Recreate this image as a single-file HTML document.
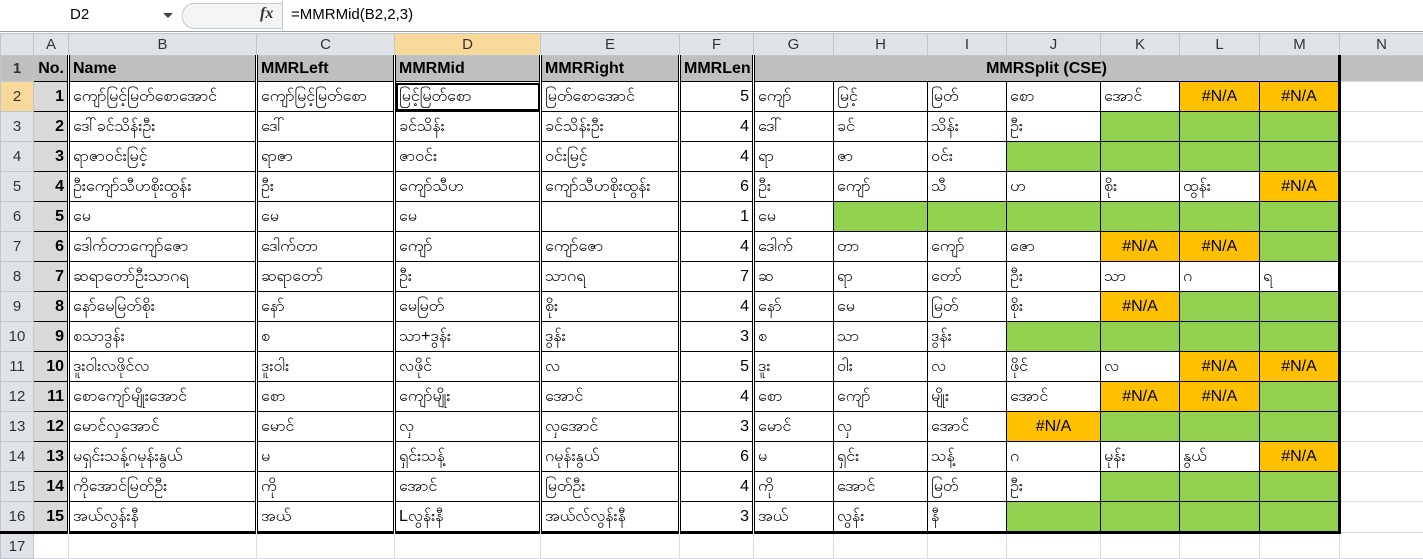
<!DOCTYPE html>
<html><head><meta charset="utf-8"><style>
body{margin:0;width:1423px;height:559px;overflow:hidden;background:#fff;font-family:"Liberation Sans","DejaVu Sans",sans-serif;position:relative}
#fb{position:absolute;left:0;top:0;width:1423px;height:31px;background:#fff;border-bottom:1px solid #9aa3ad}
#nb{position:absolute;left:70px;top:6px;font-size:15px}
#dd{position:absolute;left:163px;top:13px;width:0;height:0;border-left:5px solid transparent;border-right:5px solid transparent;border-top:5px solid #444}
#cl{position:absolute;left:182px;top:3px;width:100px;height:24px;border:1px solid #c5c9ce;border-radius:12px 0 0 12px;background:#f3f4f6;border-right:none}
#fx{position:absolute;left:260px;top:5px;font-style:italic;font-family:"Liberation Serif",serif;font-size:16px;font-weight:bold;color:#333}
#fdiv{position:absolute;left:282px;top:1px;width:1px;height:29px;background:#c5c9ce}
#ft{position:absolute;left:291px;top:6px;font-size:15px}
table{position:absolute;left:0;top:33px;border-collapse:collapse;table-layout:fixed;width:1423px}
td{padding:0 3px;height:29px;font-size:16px;white-space:nowrap;overflow:hidden;border:1px solid #000;font-family:"Liberation Sans","DejaVu Sans",sans-serif}
tr.h td{height:21px;background:#dfe3e8;border:1px solid #c0c6ce;text-align:center;color:#333;font-size:15px;padding:0}
td.rh{background:#dfe3e8;border:1px solid #c0c6ce;text-align:center;color:#333;font-size:15px;padding:0}
tr.r1 td{height:25px;background:#bfbfbf;font-weight:bold}
td.a{background:#d9d9d9;text-align:right;font-weight:bold}
td.n{text-align:right}
td.g{background:#92d050}
td.o{background:#ffc000;text-align:center}
td.x{border:1px solid #d9dde3;background:#fff}
td.dd{border-left:3px double #000}
tr.r17 td{height:24px}
.sel{outline:2px solid #000;outline-offset:-3px}
td.m{border-right:3px solid #000}
tr.last td{border-bottom:3px solid #000}
</style></head><body>
<div id="fb"><div id="nb">D2</div><div id="dd"></div><div id="cl"></div><div id="fx">fx</div><div id="fdiv"></div><div id="ft">=MMRMid(B2,2,3)</div></div>
<table>
<colgroup><col style="width:33px"><col style="width:35px"><col style="width:188px"><col style="width:138px"><col style="width:146px"><col style="width:139px"><col style="width:74px"><col style="width:80px"><col style="width:94px"><col style="width:79px"><col style="width:94px"><col style="width:79px"><col style="width:80px"><col style="width:80px"><col style="width:84px"></colgroup>
<tr class="h"><td></td><td>A</td><td>B</td><td>C</td><td style="background:#f9d99a">D</td><td>E</td><td>F</td><td>G</td><td>H</td><td>I</td><td>J</td><td>K</td><td>L</td><td>M</td><td>N</td></tr>
<tr class="r1"><td class="rh">1</td><td style="text-align:right">No.</td><td class="dd">Name</td><td class="dd">MMRLeft</td><td class="dd">MMRMid</td><td class="dd">MMRRight</td><td class="dd">MMRLen</td><td colspan="7" class="dd m" style="text-align:center">MMRSplit (CSE)</td><td class="x"></td></tr>
<tr><td class="rh" style="background:#f9d99a">2</td><td class="a">1</td><td class="dd">ကျော်မြင့်မြတ်စောအောင်</td><td class="dd">ကျော်မြင့်မြတ်စော</td><td class="dd sel">မြင့်မြတ်စော</td><td class="dd">မြတ်စောအောင်</td><td class="dd n">5</td><td class="dd">ကျော်</td><td>မြင့်</td><td>မြတ်</td><td>စော</td><td>အောင်</td><td class="o">#N/A</td><td class="o m">#N/A</td><td class="x"></td></tr>
<tr><td class="rh">3</td><td class="a">2</td><td class="dd">ဒေါ်ခင်သိန်းဦး</td><td class="dd">ဒေါ်</td><td class="dd">ခင်သိန်း</td><td class="dd">ခင်သိန်းဦး</td><td class="dd n">4</td><td class="dd">ဒေါ်</td><td>ခင်</td><td>သိန်း</td><td>ဦး</td><td class="g"></td><td class="g"></td><td class="g m"></td><td class="x"></td></tr>
<tr><td class="rh">4</td><td class="a">3</td><td class="dd">ရာဇာဝင်းမြင့်</td><td class="dd">ရာဇာ</td><td class="dd">ဇာဝင်း</td><td class="dd">ဝင်းမြင့်</td><td class="dd n">4</td><td class="dd">ရာ</td><td>ဇာ</td><td>ဝင်း</td><td class="g"></td><td class="g"></td><td class="g"></td><td class="g m"></td><td class="x"></td></tr>
<tr><td class="rh">5</td><td class="a">4</td><td class="dd">ဦးကျော်သီဟစိုးထွန်း</td><td class="dd">ဦး</td><td class="dd">ကျော်သီဟ</td><td class="dd">ကျော်သီဟစိုးထွန်း</td><td class="dd n">6</td><td class="dd">ဦး</td><td>ကျော်</td><td>သီ</td><td>ဟ</td><td>စိုး</td><td>ထွန်း</td><td class="o m">#N/A</td><td class="x"></td></tr>
<tr><td class="rh">6</td><td class="a">5</td><td class="dd">မေ</td><td class="dd">မေ</td><td class="dd">မေ</td><td class="dd"></td><td class="dd n">1</td><td class="dd">မေ</td><td class="g"></td><td class="g"></td><td class="g"></td><td class="g"></td><td class="g"></td><td class="g m"></td><td class="x"></td></tr>
<tr><td class="rh">7</td><td class="a">6</td><td class="dd">ဒေါက်တာကျော်ဇော</td><td class="dd">ဒေါက်တာ</td><td class="dd">ကျော်</td><td class="dd">ကျော်ဇော</td><td class="dd n">4</td><td class="dd">ဒေါက်</td><td>တာ</td><td>ကျော်</td><td>ဇော</td><td class="o">#N/A</td><td class="o">#N/A</td><td class="g m"></td><td class="x"></td></tr>
<tr><td class="rh">8</td><td class="a">7</td><td class="dd">ဆရာတော်ဦးသာဂရ</td><td class="dd">ဆရာတော်</td><td class="dd">ဦး</td><td class="dd">သာဂရ</td><td class="dd n">7</td><td class="dd">ဆ</td><td>ရာ</td><td>တော်</td><td>ဦး</td><td>သာ</td><td>ဂ</td><td class="m">ရ</td><td class="x"></td></tr>
<tr><td class="rh">9</td><td class="a">8</td><td class="dd">နော်မေမြတ်စိုး</td><td class="dd">နော်</td><td class="dd">မေမြတ်</td><td class="dd">စိုး</td><td class="dd n">4</td><td class="dd">နော်</td><td>မေ</td><td>မြတ်</td><td>စိုး</td><td class="o">#N/A</td><td class="g"></td><td class="g m"></td><td class="x"></td></tr>
<tr><td class="rh">10</td><td class="a">9</td><td class="dd">စသာဒွန်း</td><td class="dd">စ</td><td class="dd">သာ+ဒွန်း</td><td class="dd">ဒွန်း</td><td class="dd n">3</td><td class="dd">စ</td><td>သာ</td><td>ဒွန်း</td><td class="g"></td><td class="g"></td><td class="g"></td><td class="g m"></td><td class="x"></td></tr>
<tr><td class="rh">11</td><td class="a">10</td><td class="dd">ဒူးဝါးလဖိုင်လ</td><td class="dd">ဒူးဝါး</td><td class="dd">လဖိုင်</td><td class="dd">လ</td><td class="dd n">5</td><td class="dd">ဒူး</td><td>ဝါး</td><td>လ</td><td>ဖိုင်</td><td>လ</td><td class="o">#N/A</td><td class="o m">#N/A</td><td class="x"></td></tr>
<tr><td class="rh">12</td><td class="a">11</td><td class="dd">စောကျော်မျိုးအောင်</td><td class="dd">စော</td><td class="dd">ကျော်မျိုး</td><td class="dd">အောင်</td><td class="dd n">4</td><td class="dd">စော</td><td>ကျော်</td><td>မျိုး</td><td>အောင်</td><td class="o">#N/A</td><td class="o">#N/A</td><td class="g m"></td><td class="x"></td></tr>
<tr><td class="rh">13</td><td class="a">12</td><td class="dd">မောင်လှအောင်</td><td class="dd">မောင်</td><td class="dd">လှ</td><td class="dd">လှအောင်</td><td class="dd n">3</td><td class="dd">မောင်</td><td>လှ</td><td>အောင်</td><td class="o">#N/A</td><td class="g"></td><td class="g"></td><td class="g m"></td><td class="x"></td></tr>
<tr><td class="rh">14</td><td class="a">13</td><td class="dd">မရှင်းသန့်ဂမုန်းနွယ်</td><td class="dd">မ</td><td class="dd">ရှင်းသန့်</td><td class="dd">ဂမုန်းနွယ်</td><td class="dd n">6</td><td class="dd">မ</td><td>ရှင်း</td><td>သန့်</td><td>ဂ</td><td>မုန်း</td><td>နွယ်</td><td class="o m">#N/A</td><td class="x"></td></tr>
<tr><td class="rh">15</td><td class="a">14</td><td class="dd">ကိုအောင်မြတ်ဦး</td><td class="dd">ကို</td><td class="dd">အောင်</td><td class="dd">မြတ်ဦး</td><td class="dd n">4</td><td class="dd">ကို</td><td>အောင်</td><td>မြတ်</td><td>ဦး</td><td class="g"></td><td class="g"></td><td class="g m"></td><td class="x"></td></tr>
<tr class="last"><td class="rh">16</td><td class="a">15</td><td class="dd">အယ်လွန်းနီ</td><td class="dd">အယ်</td><td class="dd">Lလွန်းနီ</td><td class="dd">အယ်လ်လွန်းနီ</td><td class="dd n">3</td><td class="dd">အယ်</td><td>လွန်း</td><td>နီ</td><td class="g"></td><td class="g"></td><td class="g"></td><td class="g m"></td><td class="x" style="border-bottom:1px solid #d9dde3"></td></tr>
<tr class="r17"><td class="rh">17</td><td class="x"></td><td class="x"></td><td class="x"></td><td class="x"></td><td class="x"></td><td class="x"></td><td class="x"></td><td class="x"></td><td class="x"></td><td class="x"></td><td class="x"></td><td class="x"></td><td class="x"></td><td class="x"></td></tr>
</table>
</body></html>
